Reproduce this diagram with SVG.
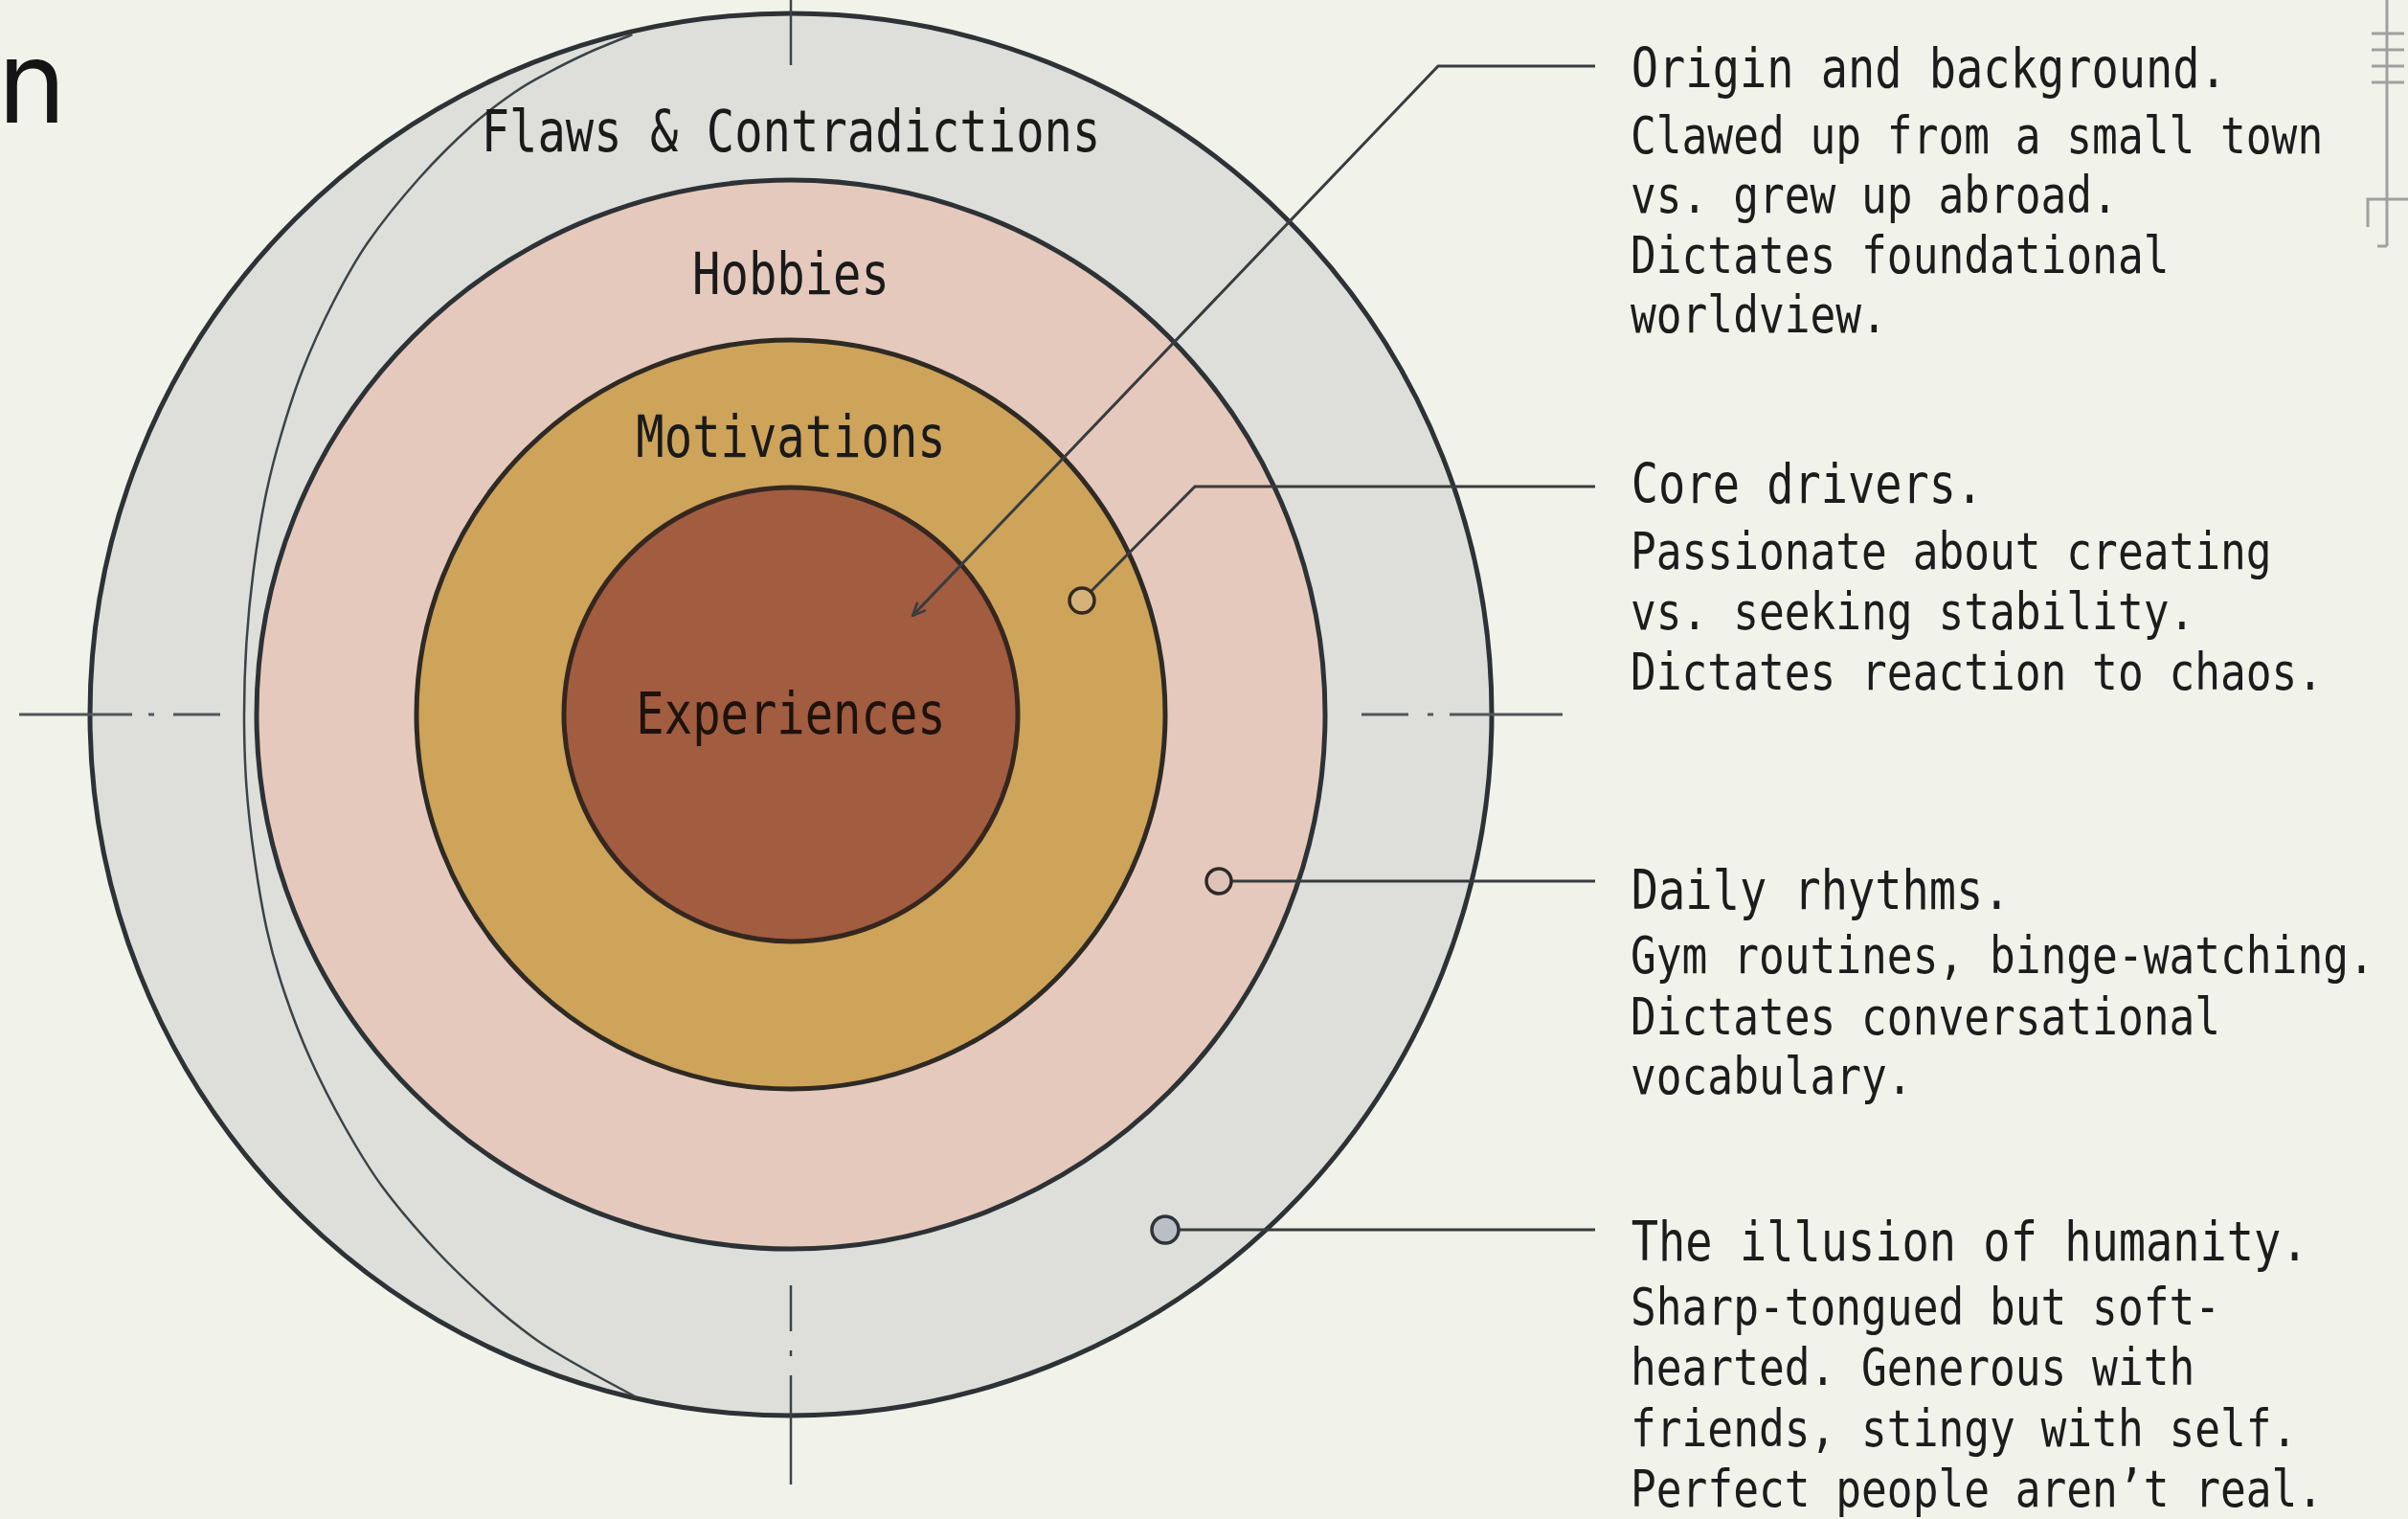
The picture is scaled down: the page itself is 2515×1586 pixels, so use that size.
<svg xmlns="http://www.w3.org/2000/svg" width="2515" height="1586" viewBox="0 0 2515 1586">
<style>
.ring{stroke:#2c3235;stroke-width:5}
.lbl{font-family:"DejaVu Sans Mono","Liberation Mono",monospace;font-size:60px;fill:#1a1a1a;text-anchor:middle}
.hd{font-family:"DejaVu Sans Mono","Liberation Mono",monospace;font-size:57px;fill:#1c1c1c}
.bd{font-family:"DejaVu Sans Mono","Liberation Mono",monospace;font-size:54px;fill:#1c1c1c}
.lead{fill:none;stroke:#383c3e;stroke-width:3}
.dot{stroke-width:3.5}
.axis{fill:none;stroke:#50565a;stroke-width:3}
.deco{fill:none;stroke:#a0a0a0;stroke-width:3}
</style>
<defs>
<marker id="arrow" markerUnits="userSpaceOnUse" viewBox="0 0 16 14" refX="15" refY="7" markerWidth="16" markerHeight="14" orient="auto">
<path d="M1,1 L15,7 L1,13" fill="none" stroke="#383c3e" stroke-width="2.5"/>
</marker>
</defs>
<rect x="0" y="0" width="2515" height="1586" fill="#f1f2e9"/>

<g id="title">
<text x="-2" y="128" font-family="Inter,'Noto Sans',sans-serif" font-size="120" fill="#141414">n</text>
</g>

<g id="corner-mark" class="deco">
<line x1="2493" y1="0" x2="2493" y2="257"/>
<line x1="2477" y1="35" x2="2511" y2="35"/>
<line x1="2477" y1="52" x2="2511" y2="52"/>
<line x1="2477" y1="69" x2="2511" y2="69"/>
<line x1="2477" y1="86" x2="2511" y2="86"/>
<polyline points="2473,237 2473,208 2515,208"/>
<line x1="2483" y1="257" x2="2493" y2="257"/>
</g>

<g id="node-flaws">
<circle cx="826" cy="746" r="732" fill="#dedfdb" class="ring"/>
<path d="M660.4,36 C652.4,39.33 627.4,49.17 612.4,56 C597.4,62.83 582.78,70.33 570.4,77 C558.02,83.67 550.85,87.17 538.1,96 C525.35,104.83 510.6,115 493.9,130 C477.2,145 456.17,165.5 437.9,186 C419.63,206.5 399.32,231.33 384.3,253 C369.28,274.67 359.22,293.67 347.8,316 C336.38,338.33 324.93,363.67 315.8,387 C306.67,410.33 299.47,433.83 293,456 C286.53,478.17 281.72,496.67 277,520 C272.28,543.33 267.97,570.83 264.7,596 C261.43,621.17 259.02,646 257.4,671 C255.78,696 255,721 255,746 C255,771 255.62,796 257.4,821 C259.18,846 262.1,870.83 265.7,896 C269.3,921.17 273.78,948.67 279,972 C284.22,995.33 289.53,1013.83 297,1036 C304.47,1058.17 313.33,1081.67 323.8,1105 C334.27,1128.33 347.22,1153.67 359.8,1176 C372.38,1198.33 383.28,1217.33 399.3,1239 C415.32,1260.67 436.8,1285.5 455.9,1306 C475,1326.5 497.2,1347 513.9,1362 C530.6,1377 544.18,1387.17 556.1,1396 C568.02,1404.83 574.35,1408.33 585.4,1415 C596.45,1421.67 609.13,1428.67 622.4,1436 C635.67,1443.33 657.9,1455.17 665,1459" fill="none" stroke="#3b4347" stroke-width="2.5"/>
<text class="lbl" transform="translate(826,158) scale(0.814,1)">Flaws &amp; Contradictions</text>
</g>

<g id="node-hobbies">
<circle cx="826" cy="746" r="558" fill="#e6c9bd" class="ring"/>
<text class="lbl" transform="translate(826,307) scale(0.814,1)">Hobbies</text>
</g>

<g id="node-motivations">
<circle cx="826" cy="746" r="391" fill="#cea35a" class="ring" style="stroke:#2e2a24"/>
<text class="lbl" transform="translate(826,477) scale(0.814,1)">Motivations</text>
</g>

<g id="node-experiences">
<circle cx="826" cy="746" r="237" fill="#a25c40" class="ring" style="stroke:#35271f"/>
<text class="lbl" transform="translate(826,766) scale(0.814,1)" style="fill:#1e120c">Experiences</text>
</g>

<g id="axes" class="axis">
<line x1="20" y1="746" x2="138" y2="746"/>
<line x1="155" y1="746" x2="161" y2="746"/>
<line x1="181" y1="746" x2="230" y2="746"/>
<line x1="1422" y1="746" x2="1471" y2="746"/>
<line x1="1491" y1="746" x2="1497" y2="746"/>
<line x1="1514" y1="746" x2="1632" y2="746"/>
<line x1="826" y1="0" x2="826" y2="68" style="stroke:#3c4246;stroke-width:2.5"/>
<line x1="826" y1="1342" x2="826" y2="1390" style="stroke:#3c4246;stroke-width:2.5"/>
<line x1="826" y1="1410" x2="826" y2="1416" style="stroke:#3c4246;stroke-width:2.5"/>
<line x1="826" y1="1436" x2="826" y2="1550" style="stroke:#3c4246;stroke-width:2.5"/>
</g>

<g id="connectors">
<polyline class="lead" points="1666,69 1502,69 953,643" marker-end="url(#arrow)"/>
<polyline class="lead" points="1666,508 1248,508 1139.2,617.8"/>
<circle class="dot" cx="1130" cy="627" r="13" fill="#d4b27a" stroke="#33291f"/>
<line class="lead" x1="1666" y1="920" x2="1286" y2="920"/>
<circle class="dot" cx="1273" cy="920" r="13" fill="#dfc3b8" stroke="#2f2a28"/>
<line class="lead" x1="1666" y1="1284" x2="1231" y2="1284"/>
<circle class="dot" cx="1217" cy="1284" r="14" fill="#b9bfc5" stroke="#2d3338"/>
</g>

<g id="note-origin" transform="translate(1703,0) scale(0.824,1)">
<text class="hd" x="1" y="91">Origin and background.</text>
<text class="bd" x="0" y="160">Clawed up from a small town</text>
<text class="bd" x="0" y="222">vs. grew up abroad.</text>
<text class="bd" x="0" y="285">Dictates foundational</text>
<text class="bd" x="0" y="347">worldview.</text>
</g>

<g id="note-core" transform="translate(1703,0) scale(0.824,1)">
<text class="hd" x="1" y="525">Core drivers.</text>
<text class="bd" x="0" y="594">Passionate about creating</text>
<text class="bd" x="0" y="657">vs. seeking stability.</text>
<text class="bd" x="0" y="720">Dictates reaction to chaos.</text>
</g>

<g id="note-daily" transform="translate(1703,0) scale(0.824,1)">
<text class="hd" x="1" y="949">Daily rhythms.</text>
<text class="bd" x="0" y="1016">Gym routines, binge-watching.</text>
<text class="bd" x="0" y="1080">Dictates conversational</text>
<text class="bd" x="0" y="1142">vocabulary.</text>
</g>

<g id="note-illusion" transform="translate(1703,0) scale(0.824,1)">
<text class="hd" x="1" y="1316">The illusion of humanity.</text>
<text class="bd" x="0" y="1383">Sharp-tongued but soft-</text>
<text class="bd" x="0" y="1446">hearted. Generous with</text>
<text class="bd" x="0" y="1510">friends, stingy with self.</text>
<text class="bd" x="0" y="1573">Perfect people aren’t real.</text>
</g>
</svg>
